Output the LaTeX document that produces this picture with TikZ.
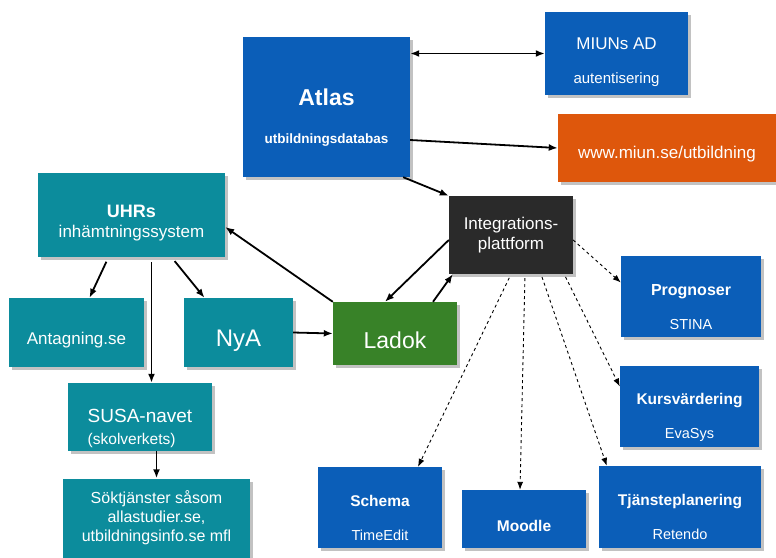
\documentclass[tikz,border=0pt]{standalone}
\usepackage{fontspec}
\setmainfont{Liberation Sans}
\usetikzlibrary{arrows.meta,shadows}

\definecolor{miunblue}{RGB}{11,94,184}
\definecolor{miunorange}{RGB}{222,87,12}
\definecolor{miunteal}{RGB}{12,140,156}
\definecolor{miungreen}{RGB}{56,130,40}
\definecolor{miundark}{RGB}{42,42,42}
% strut that pushes a node's text down
\newcommand\txtdrop[1]{\rule{0pt}{#1}}

\begin{document}
\begin{tikzpicture}[x=1pt,y=-1pt]
\useasboundingbox (0,0) rectangle (776,557);

\begin{scope}[every node/.style={draw=none,text=white,align=center,inner sep=0pt,
              drop shadow={opacity=0.4,fill=black!60,shadow xshift=3pt,shadow yshift=-3pt}}]
    % blue systems
    \node[fill=miunblue,minimum width=167pt,minimum height=140pt,font=\fontsize{23}{27}\selectfont\bfseries] (At) at (326.5,107)
        {\txtdrop{37pt}Atlas\\[11pt]{\fontsize{13.5}{16}\selectfont utbildningsdatabas}};
    \node[fill=miunblue,minimum width=143pt,minimum height=83pt,font=\fontsize{17}{20}\selectfont] (AD) at (616.5,53.5)
        {\txtdrop{30pt}MIUNs AD\\[14pt]{\fontsize{15}{18}\selectfont autentisering}};
    \node[fill=miunorange,minimum width=218pt,minimum height=68pt,font=\fontsize{17}{20}\selectfont] (Web) at (667,148)
        {\txtdrop{24pt}www.miun.se/utbildning};
    \node[fill=miundark,minimum width=124pt,minimum height=78pt,font=\fontsize{17}{20}\selectfont] (IP) at (511,235)
        {Integrations-\\plattform};
    \node[fill=miungreen,minimum width=124pt,minimum height=63pt,font=\fontsize{23}{27}\selectfont] (Lad) at (395,333.5)
        {\txtdrop{30pt}Ladok};
    \node[fill=miunblue,minimum width=140pt,minimum height=81pt,font=\fontsize{16}{19}\selectfont\bfseries] (Prog) at (691,296.5)
        {\txtdrop{32pt}Prognoser\\[15pt]{\fontsize{14.5}{17}\selectfont\mdseries STINA}};
    \node[fill=miunblue,minimum width=139pt,minimum height=81pt,font=\fontsize{15.5}{19}\selectfont\bfseries] (Kurs) at (689.5,406.5)
        {\txtdrop{32pt}Kursvärdering\\[15pt]{\fontsize{14.5}{17}\selectfont\mdseries EvaSys}};
    \node[fill=miunblue,minimum width=124pt,minimum height=81pt,font=\fontsize{15.5}{19}\selectfont\bfseries] (Sch) at (380,507.5)
        {\txtdrop{32pt}Schema\\[15pt]{\fontsize{14.5}{17}\selectfont\mdseries TimeEdit}};
    \node[fill=miunblue,minimum width=124pt,minimum height=58pt,font=\fontsize{15.5}{19}\selectfont\bfseries] (Mood) at (524,519)
        {\txtdrop{25pt}Moodle};
    \node[fill=miunblue,minimum width=162pt,minimum height=82pt,font=\fontsize{15.5}{19}\selectfont\bfseries] (Tj) at (680,507)
        {\txtdrop{32pt}Tjänsteplanering\\[15pt]{\fontsize{14.5}{17}\selectfont\mdseries Retendo}};
    % teal systems
    \node[fill=miunteal,minimum width=187pt,minimum height=84pt,font=\fontsize{17}{20}\selectfont] (UHR) at (131.5,215)
        {\txtdrop{28pt}\textbf{\fontsize{18}{20}\selectfont UHRs}\\inhämtningssystem};
    \node[fill=miunteal,minimum width=135pt,minimum height=69pt,font=\fontsize{17}{20}\selectfont] (Ant) at (76.5,332.5)
        {\txtdrop{27pt}Antagning.se};
    \node[fill=miunteal,minimum width=109pt,minimum height=69pt,font=\fontsize{24}{28}\selectfont] (NyA) at (238.5,332.5)
        {\txtdrop{32pt}NyA};
    \node[fill=miunteal,minimum width=144pt,minimum height=68pt,align=left,font=\fontsize{19}{22}\selectfont] (SUSA) at (140,417)
        {\txtdrop{36pt}SUSA-navet\\{\fontsize{15.5}{18}\selectfont (skolverkets)}};
    \node[fill=miunteal,minimum width=187pt,minimum height=79pt,font=\fontsize{16}{19}\selectfont] (Sok) at (156.5,518)
        {Söktjänster såsom\\allastudier.se,\\utbildningsinfo.se mfl};
\end{scope}

\begin{scope}[>={Latex[length=9pt,width=7pt]},line width=1.8pt]
    \draw [<->] (At.east |- AD.west) -- (AD.west);
    \draw [->] ([yshift=-33pt]At.east) -- (Web.west);
    \draw [->] ([xshift=-7pt]At.south east) -- (IP.north west);
    \draw [->] (Lad.north west) -- ([yshift=-12pt]UHR.east);
    \draw [->] ([yshift=-5pt]IP.west) -- ([xshift=-10pt]Lad.north);
    \draw [->] ([xshift=38pt]Lad.north) -- ([xshift=4pt]IP.south west);
    \draw [->,shorten <=5pt] ([xshift=-23pt]UHR.south) -- ([xshift=13pt]Ant.north);
    \draw [->,shorten <=5pt] ([xshift=20pt]UHR.south) -- ([xshift=20pt]UHR.south |- SUSA.north);
    \draw [->,shorten <=5pt] ([xshift=40pt]UHR.south) -- ([xshift=-34pt]NyA.north);
    \draw [->] (NyA.east) -- (Lad.west);
    \draw [->] (SUSA.south -| Sok.north) -- (Sok.north);
\end{scope}

\begin{scope}[>={Latex[length=8pt,width=6pt]},line width=0.9pt,dashed]
    \draw [->] ([yshift=-5pt]IP.east) -- ([yshift=14pt]Prog.west);
    \draw [->,shorten <=3pt] ([xshift=-9pt]IP.south east) -- ([yshift=20pt]Kurs.west);
    \draw [->,shorten <=3pt] ([xshift=30pt]IP.south) -- ([xshift=8pt]Tj.north west);
    \draw [->,shorten <=4pt] ([xshift=14pt]IP.south) -- ([xshift=-4pt]Mood.north);
    \draw [->,shorten <=4pt] (IP.south) -- ([xshift=38pt]Sch.north);
\end{scope}
\end{tikzpicture}
\end{document}
